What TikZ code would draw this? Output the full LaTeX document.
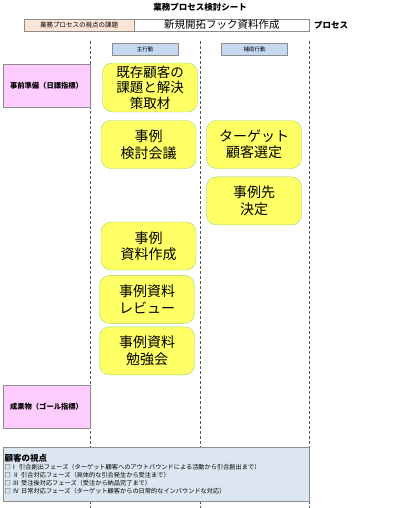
\documentclass[tikz,border=0pt]{standalone}
\usepackage{fontspec}
\setmainfont{Noto Sans CJK JP}
\usepackage{tikz}
\usetikzlibrary{positioning}
\usepackage{xcolor}
\definecolor{TaskFill}{HTML}{FFFF66}
\definecolor{TaskLine}{HTML}{9CD36E}
\definecolor{PhaseFill}{HTML}{FFCCFF}
\definecolor{HeadFill}{HTML}{C6D9F1}
\definecolor{TopicFill}{HTML}{FCE4D6}
\definecolor{ViewFill}{HTML}{DCE6F1}
\definecolor{FrameGray}{HTML}{8C8C8C}
\definecolor{LaneGray}{HTML}{555555}
\tikzset{
  tasknode/.style={draw=TaskLine,fill=TaskFill,rounded corners=3.5mm,minimum width=95pt,minimum height=48pt,inner sep=0pt,align=center,font=\fontsize{14}{16.5}\selectfont},
  phasenode/.style={draw=FrameGray,fill=PhaseFill,minimum width=87pt,minimum height=43pt,inner sep=0pt,align=center,font=\fontsize{7.3}{9}\selectfont\bfseries},
  lanehead/.style={draw=FrameGray,fill=HeadFill,minimum width=66pt,minimum height=12pt,inner sep=0pt,font=\fontsize{5.5}{6}\selectfont},
  topicnode/.style={draw=FrameGray,fill=TopicFill,minimum width=110pt,minimum height=12pt,inner sep=0pt,font=\fontsize{6.5}{7}\selectfont},
  themenode/.style={draw=FrameGray,fill=white,minimum width=175pt,minimum height=12pt,inner sep=0pt,font=\fontsize{10.5}{11}\selectfont},
  viewbox/.style={draw=FrameGray,fill=ViewFill,text width=303pt,minimum height=54pt,inner sep=1.5pt,align=left,anchor=north west,font=\fontsize{6.2}{7.9}\selectfont},
  laneline/.style={draw=LaneGray,densely dashed,line width=0.6pt}
}
\begin{document}
\begin{tikzpicture}[x=1pt,y=-1pt,node distance=5pt]
\useasboundingbox (0,0) rectangle (400,508);
% lanes
\foreach \lx in {90,200,309} \draw[laneline] (\lx,41) -- (\lx,508);
\node[font=\fontsize{8.5}{9}\selectfont\bfseries] (sheet) at (200,7) {業務プロセス検討シート};
\node[topicnode] (topic) at (79,25) {業務プロセスの視点の課題};
\node[themenode,right=0pt of topic] (theme) {新規開拓フック資料作成};
\node[font=\fontsize{8.5}{9}\selectfont\bfseries,right=1pt of theme] (proc) {プロセス};
\node[lanehead] (mainhd) at (145,49) {主行動};
\node[lanehead] (subhd) at (254.5,49) {補助行動};
\node[phasenode] (prep) at (46.5,85.5) {事前準備（日課指標）};
\node[phasenode] (goal) at (46.5,407) {成果物（ゴール指標）};
\node[tasknode,minimum height=49pt,font=\fontsize{13.5}{15.5}\selectfont] (hear) at (150,87.5) {既存顧客の\\課題と解決\\策取材};
\node[tasknode] (meet) at (148.5,144.5) {事例\\検討会議};
\node[tasknode] (make) at (148.5,246) {事例\\資料作成};
\node[tasknode,below=5pt of make,xshift=-1.5pt] (review) {事例資料\\レビュー};
\node[tasknode,below=3pt of review] (study) {事例資料\\勉強会};
\node[tasknode] (target) at (254,144.5) {ターゲット\\顧客選定};
\node[tasknode,below=8pt of target] (pick) {事例先\\決定};
\node[viewbox] (view) at (3,447) {{\fontsize{8.5}{10}\selectfont\bfseries 顧客の視点}\\
\mbox{□Ⅰ 引合創出フェーズ（ターゲット顧客へのアウトバウンドによる活動から引合創出まで）}\\
\mbox{□ Ⅱ 引合対応フェーズ（具体的な引合発生から受注まで）}\\
\mbox{□ Ⅲ 受注後対応フェーズ（受注から納品完了まで）}\\
\mbox{□ Ⅳ 日常対応フェーズ（ターゲット顧客からの日常的なインバウンドな対応）}};
\end{tikzpicture}
\end{document}
